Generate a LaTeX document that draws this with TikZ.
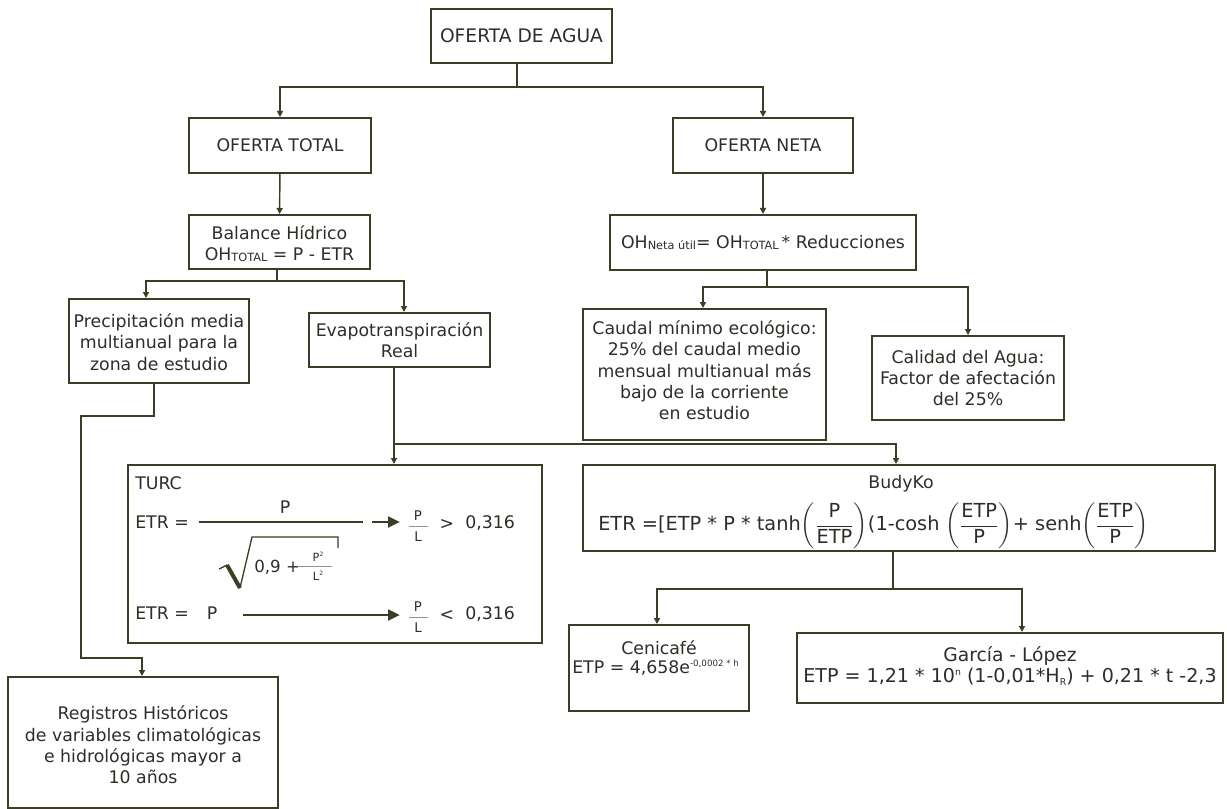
\documentclass[tikz,border=0pt]{standalone}
\usepackage{fontspec}
\usepackage{amsmath}
\setmainfont{DejaVu Sans}
\usetikzlibrary{arrows.meta,fit}
\definecolor{lc}{HTML}{3D3D25}
\definecolor{tc}{HTML}{2E2E28}
\newcommand\fsz[2]{\fontsize{#1}{#2}\selectfont}
\newcommand\smc[1]{\raisebox{-0.6pt}{\fsz{8.5}{10}#1}}
\begin{document}
\begin{tikzpicture}[x=0.75pt,y=-0.75pt,
  box/.style={draw=lc, line width=1.5pt, inner sep=0pt},
  lbl/.style={text=tc, inner sep=0pt, align=center, font=\fsz{13}{16}},
  tx/.style={text=tc, inner sep=0pt, font=\fsz{13}{16}},
  sm/.style={text=tc, inner sep=0pt, font=\fsz{10}{12}},
  tiny/.style={text=tc, inner sep=0pt, font=\fsz{8.5}{10}},
  conn/.style={draw=lc, line width=1.1pt, -{Triangle[length=4.5pt,width=4.5pt]}},
  ln/.style={draw=lc, line width=1.1pt},
  fatarrow/.style={draw=lc, line width=2pt, -{Triangle[length=9pt,width=8pt]}},
  fracrule/.style={draw=lc!55, line width=0.7pt}]
\fill[white] (0,0) rectangle (1227,809);
\useasboundingbox (0,0) rectangle (1227,809);

% boxes
\node[box, fit={(431,9) (612,63)}] (agua) {};
\node[box, fit={(189,118) (371,173)}] (total) {};
\node[box, fit={(673,118) (853,173)}] (neta) {};
\node[box, fit={(189,215) (370,269)}] (balance) {};
\node[box, fit={(610,215) (916,270)}] (oh) {};
\node[box, fit={(69,299) (249,383)}] (precip) {};
\node[box, fit={(309,313) (490,367)}] (evapo) {};
\node[box, fit={(583,309) (826,440)}] (caudal) {};
\node[box, fit={(872,336) (1064,420)}] (calidad) {};
\node[box, fit={(128,465) (542,643)}] (turc) {};
\node[box, fit={(583,465) (1215,551)}] (budyko) {};
\node[box, fit={(569,625) (749,711)}] (ceni) {};
\node[box, fit={(797,633) (1223,703)}] (garcia) {};
\node[box, fit={(8,677) (278,808)}] (regis) {};

% box texts
\node[lbl, font=\fsz{14}{17}] (aguaT) at (agua.center) {OFERTA DE AGUA};
\node[lbl] (totalT) at (total.center) {OFERTA TOTAL};
\node[lbl] (netaT) at (neta.center) {OFERTA NETA};
\node[lbl] (balanceT) at ([yshift=-1.2]balance.center) {Balance Hídrico\\OH\smc{TOTAL} = P - ETR};
\node[lbl] (ohT) at (oh.center) {OH\smc{Neta útil}= OH\smc{TOTAL}\,* Reducciones};
\node[lbl] (precipT) at ([yshift=-0.8]precip.center) {Precipitación media\\multianual para la\\zona de estudio};
\node[lbl] (evapoT) at (evapo.center) {Evapotranspiración\\Real};
\node[lbl] (caudalT) at ([yshift=3]caudal.center) {Caudal mínimo ecológico:\\25\% del caudal medio\\mensual multianual más\\bajo de la corriente\\en estudio};
\node[lbl] (calidadT) at (calidad.center) {Calidad del Agua:\\Factor de afectación\\del 25\%};
\node[lbl] (regisT) at ([yshift=-2]regis.center) {Registros Históricos\\de variables climatológicas\\e hidrológicas mayor a\\10 años};

% connectors
\coordinate (j1) at (517,87);
\draw[ln] (agua.south -| j1) -- (j1);
\draw[conn] (j1) -| (total.north);
\draw[conn] (j1) -| (neta.north);
\draw[conn] (total) -- (balance);
\draw[conn] (neta) -- (oh);

\coordinate (j2) at (277,281);
\coordinate (p1) at (146,281);
\coordinate (p2) at (404,281);
\draw[ln] (balance.south -| j2) -- (j2);
\draw[conn] (j2) -- (p1) -- (p1 |- precip.north);
\draw[conn] (j2) -- (p2) -- (p2 |- evapo.north);

\coordinate (k1) at (154,416);
\coordinate (k2) at (81,416);
\coordinate (k3) at (81,658);
\coordinate (k4) at (142,658);
\draw[conn] (k1 |- precip.south) -- (k1) -- (k2) -- (k3) -- (k4) -- (k4 |- regis.north);

\coordinate (e1) at (394,444);
\coordinate (e2) at (896,444);
\draw[ln] (e1 |- evapo.south) -- (e1);
\draw[conn] (e1) -- (e1 |- turc.north);
\draw[conn] (e1) -- (e2) -- (e2 |- budyko.north);

\coordinate (o1) at (767,287);
\coordinate (o2) at (703,287);
\coordinate (o3) at (968,287);
\draw[ln] (o1 |- oh.south) -- (o1);
\draw[conn] (o1) -- (o2) -- (o2 |- caudal.north);
\draw[conn] (o1) -- (o3) -- (o3 |- calidad.north);

\coordinate (b1) at (893,589);
\coordinate (b2) at (657,589);
\coordinate (b3) at (1022,589);
\draw[ln] (b1 |- budyko.south) -- (b1);
\draw[conn] (b1) -- (b2) -- (b2 |- ceni.north);
\draw[conn] (b1) -- (b3) -- (b3 |- garcia.north);

% TURC content
\node[tx, anchor=west] (turcname) at (135,483) {TURC};
\node[tx, anchor=west] (etr1) at (135,522) {ETR =};
\draw[ln] (199,522) -- (363,522);
\node[tx] (num1) at (285,507) {P};
\draw[fatarrow] (372,522) -- (400,522);
\node[sm] (p1n) at (418,516) {P};
\draw[fracrule] (409,526.5) -- (428,526.5);
\node[sm] (p1d) at (418,537) {L};
\node[tx] (gt) at (447,524) {>};
\node[tx, anchor=west] (v1) at (465,523) {0,316};
\draw[lc, line width=1pt] (219,569) -- (227,565);
\draw[lc, line width=3pt] (227,565) -- (240,588);
\draw[lc, line width=1pt] (240,588) -- (252,537) -- (338,537) -- (338,548);
\node[tx, font=\fsz{12.5}{14}, anchor=west] (rad) at (254,567) {0,9 +};
\node[tiny] (rp) at (318,557) {P\raisebox{3.5pt}{\fsz{4.5}{5}2}};
\draw[fracrule] (299,566) -- (332,566);
\node[tiny] (rl) at (318,576) {L\raisebox{3.5pt}{\fsz{4.5}{5}2}};

\node[tx, anchor=west] (etr2) at (135,613) {ETR =};
\node[tx] (num2) at (212,613) {P};
\draw[fatarrow] (243,615) -- (400,615);
\node[sm] (p2n) at (418,607) {P};
\draw[fracrule] (409,617.5) -- (428,617.5);
\node[sm] (p2d) at (418,628) {L};
\node[tx] (lt) at (447,615) {<};
\node[tx, anchor=west] (v2) at (465,614) {0,316};

% BudyKo content
\node[tx] (budt) at (901,484) {BudyKo};
\node[tx, font=\fsz{14.5}{17}, anchor=west] (budf) at (598,526) {ETR =[ETP * P * tanh$\left(\dfrac{\text{P}}{\text{ETP}}\right)$(1-cosh $\left(\dfrac{\text{ETP}}{\text{P}}\right)$+ senh$\left(\dfrac{\text{ETP}}{\text{P}}\right)$};

% Cenicafe content
\node[tx] (cent) at (659,648) {Cenicafé};
\node[tx, anchor=west] (cenf) at (572,668) {ETP = 4,658e\raisebox{5pt}{\fsz{6.5}{8}-0,0002 * h}};

% Garcia content
\node[tx, font=\fsz{14}{17}] (gart) at (1010,656) {García - López};
\node[tx, font=\fsz{14.3}{17}] (garf) at (1010,677) {ETP = 1,21 * 10\raisebox{5.5pt}{\fsz{7}{8}n} (1-0,01*H\raisebox{-2pt}{\fsz{7}{8}R}) + 0,21 * t -2,3};
\end{tikzpicture}
\end{document}
